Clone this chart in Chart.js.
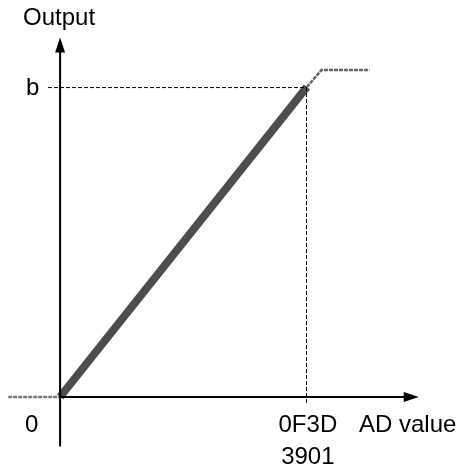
<!DOCTYPE html>
<html>
<head>
<meta charset="utf-8">
<script src="https://cdn.jsdelivr.net/npm/chart.js@4"></script>
<style>
  html, body { margin: 0; padding: 0; background: #fff; }
  #wrap { width: 464px; height: 470px; }
</style>
</head>
<body>
<div id="wrap"><canvas id="adChart"></canvas></div>
<script>
// AD value -> output transfer curve
const kneeAD = 3901;
const kneeHex = '0F3D';
const bLevel = 1;

const rampAD = [0, kneeAD];
const rampOut = [0, bLevel];
const lowAD = [-820, 0];
const lowOut = [0, 0];
const satAD = [kneeAD, 4130, 4890];
const satOut = [bLevel, 1.055, 1.055];

// axis extents (in data units)
const xAxisEnd = 5670;
const yAxisTop = 1.16;
const yAxisBottom = -0.16;

function pts(xs, ys) {
    return xs.map((x, i) => ({ x: x, y: ys[i] }));
}

const FONT = '24px "Liberation Sans", Arial, sans-serif';

// axes, arrows, guides and labels
const decorPlugin = {
    id: 'decor',
    afterDatasetsDraw(chart) {
        const ctx = chart.ctx;
        const xs = chart.scales.x, ys = chart.scales.y;
        const x0 = xs.getPixelForValue(0), y0 = ys.getPixelForValue(0);
        const xk = xs.getPixelForValue(kneeAD), yb = ys.getPixelForValue(bLevel);
        const xEnd = xs.getPixelForValue(xAxisEnd);
        const yTop = ys.getPixelForValue(yAxisTop);
        const yBot = ys.getPixelForValue(yAxisBottom);

        ctx.save();
        // dashed guides
        ctx.strokeStyle = '#000';
        ctx.lineWidth = 1;
        ctx.setLineDash([4, 2]);
        ctx.beginPath();
        ctx.moveTo(48, yb + 0.5);
        ctx.lineTo(xk, yb + 0.5);
        ctx.moveTo(Math.round(xk) - 0.5, yb);
        ctx.lineTo(Math.round(xk) - 0.5, y0 + 6);
        ctx.stroke();
        ctx.setLineDash([]);

        // axes
        ctx.lineWidth = 2;
        ctx.beginPath();
        ctx.moveTo(x0, yBot);
        ctx.lineTo(x0, yTop + 10);
        ctx.moveTo(x0, y0);
        ctx.lineTo(xEnd - 10, y0);
        ctx.stroke();

        // arrow heads
        ctx.fillStyle = '#000';
        ctx.beginPath();
        ctx.moveTo(x0, yTop);
        ctx.lineTo(x0 - 5, yTop + 15);
        ctx.lineTo(x0 + 5, yTop + 15);
        ctx.closePath();
        ctx.fill();
        ctx.beginPath();
        ctx.moveTo(xEnd, y0);
        ctx.lineTo(xEnd - 15, y0 - 5);
        ctx.lineTo(xEnd - 15, y0 + 5);
        ctx.closePath();
        ctx.fill();

        // labels
        ctx.font = FONT;
        ctx.textBaseline = 'middle';
        ctx.textAlign = 'left';
        ctx.fillText('Output', 23, 18);
        ctx.fillText('b', 26, yb + 1);
        ctx.fillText('0', 25, y0 + 28);
        ctx.fillText('AD value', 359, y0 + 28, 104);
        ctx.textAlign = 'center';
        ctx.fillText(kneeHex, xk + 1, y0 + 28);
        ctx.fillText(String(kneeAD), xk + 1, y0 + 60);
        ctx.restore();
    }
};

new Chart(document.getElementById('adChart'), {
    type: 'scatter',
    data: {
        datasets: [{
            data: pts(lowAD, lowOut),
            showLine: true,
            borderColor: '#777777',
            borderWidth: 2.5,
            borderDash: [4, 1],
            pointRadius: 0
        }, {
            data: pts(satAD, satOut),
            showLine: true,
            borderColor: '#666666',
            borderWidth: 2.5,
            borderDash: [4, 1],
            pointRadius: 0
        }, {
            data: pts(rampAD, rampOut),
            showLine: true,
            borderColor: '#4d4d4d',
            borderWidth: 8,
            borderCapStyle: 'butt',
            pointRadius: 0
        }]
    },
    options: {
        responsive: true,
        maintainAspectRatio: false,
        animation: false,
        layout: { padding: 0 },
        plugins: {
            legend: { display: false },
            tooltip: { enabled: false }
        },
        scales: {
            x: {
                type: 'linear',
                display: false,
                min: -950,
                max: 6385
            },
            y: {
                type: 'linear',
                display: false,
                min: -0.236,
                max: 1.281
            }
        }
    },
    plugins: [decorPlugin]
});
</script>
</body>
</html>
